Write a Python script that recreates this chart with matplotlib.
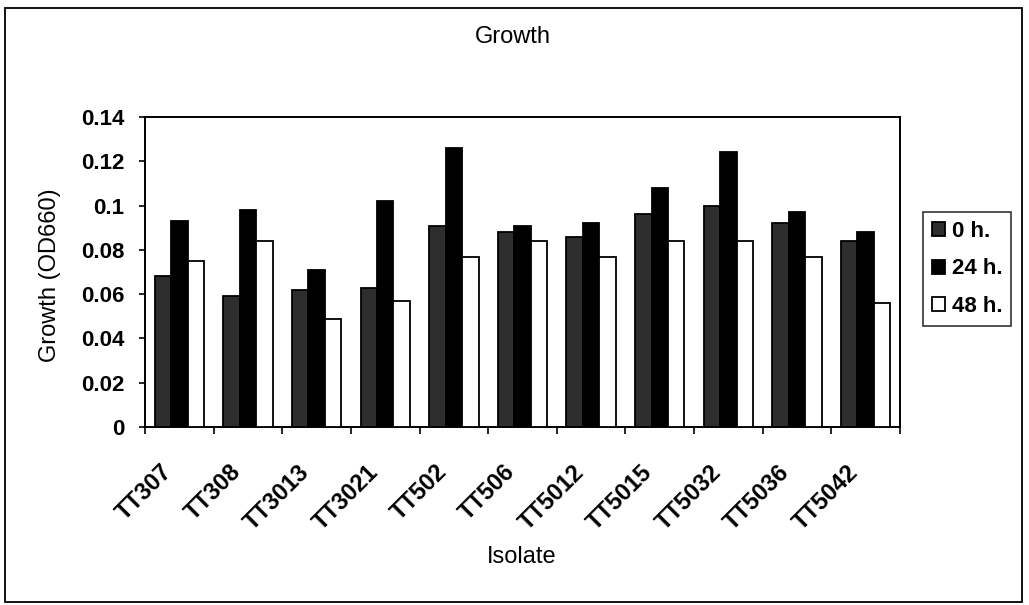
import matplotlib
matplotlib.use("Agg")
import matplotlib.pyplot as plt
import matplotlib.transforms as mtransforms
from matplotlib.patches import Rectangle
import numpy as np

plt.rcParams['font.family'] = ['Liberation Sans', 'DejaVu Sans']

isolates = ["TT307", "TT308", "TT3013", "TT3021", "TT502", "TT506",
            "TT5012", "TT5015", "TT5032", "TT5036", "TT5042"]
growth_0h = [0.068, 0.059, 0.062, 0.063, 0.091, 0.088, 0.086, 0.096, 0.100, 0.092, 0.084]
growth_24h = [0.093, 0.098, 0.071, 0.102, 0.126, 0.091, 0.092, 0.108, 0.124, 0.097, 0.088]
growth_48h = [0.075, 0.084, 0.049, 0.057, 0.077, 0.084, 0.077, 0.084, 0.084, 0.077, 0.056]
series_labels = ["0 h.", "24 h.", "48 h."]
yticks = [0, 0.02, 0.04, 0.06, 0.08, 0.1, 0.12, 0.14]
ytick_labels = ["0", "0.02", "0.04", "0.06", "0.08", "0.1", "0.12", "0.14"]

W, H = 1029, 605
fig = plt.figure(figsize=(W / 100, H / 100), dpi=100)
fig.patch.set_facecolor("white")

# outer chart border
fig.add_artist(Rectangle((5 / W, 1 - 602 / H), (1022 - 5) / W, (602 - 8) / H,
                         transform=fig.transFigure, fill=False,
                         edgecolor="black", linewidth=1.3))

ax = fig.add_axes([145 / W, 1 - 427 / H, (900 - 145) / W, (427 - 117) / H])

x = np.arange(len(isolates))
bw = 0.24
colors = ["#2e2e2e", "#000000", "#ffffff"]
for i, (vals, lab, col) in enumerate(zip([growth_0h, growth_24h, growth_48h],
                                         series_labels, colors)):
    ax.bar(x + (i - 1) * bw, vals, width=bw, color=col, edgecolor="black",
           linewidth=1.3, label=lab, zorder=3)

ax.set_xlim(-0.5, len(isolates) - 0.5)
ax.set_ylim(0, 0.14)

ax.set_yticks(yticks)
ax.set_yticklabels(ytick_labels, fontsize=16, fontweight="bold")
ax.tick_params(axis="y", direction="out", length=4, width=1.2, pad=11)

# category-boundary ticks on x axis
ax.set_xticks(np.arange(-0.5, len(isolates) - 0.4, 1.0), minor=False)
ax.set_xticklabels([])
ax.tick_params(axis="x", which="major", direction="out", length=5, width=1.2)
ax.set_xticks(x, minor=True)
ax.set_xticklabels(isolates, minor=True, fontsize=17, fontweight="bold",
                   rotation=45, ha="right", rotation_mode="anchor")
ax.tick_params(axis="x", which="minor", length=0, pad=24)
offset = mtransforms.ScaledTranslation(-0.19, 0, fig.dpi_scale_trans)
for lbl in ax.get_xticklabels(minor=True):
    lbl.set_transform(lbl.get_transform() + offset)

for sp in ax.spines.values():
    sp.set_linewidth(1.4)
    sp.set_color("black")

fig.text(513 / W, 1 - 37 / H, "Growth", ha="center", va="center", fontsize=17)
fig.text(522 / W, 1 - 557 / H, "Isolate", ha="center", va="center", fontsize=17)
fig.text(50 / W, 1 - 275 / H, "Growth (OD660)", ha="center", va="center",
         rotation=90, fontsize=17)

leg = ax.legend(loc="center left", bbox_to_anchor=(923 / W, 1 - 269 / H),
                bbox_transform=fig.transFigure, frameon=True, fancybox=False,
                edgecolor="black", prop={"weight": "bold", "size": 16},
                handlelength=0.6, handleheight=0.6, handletextpad=0.3,
                labelspacing=0.75, borderpad=0.4, borderaxespad=0)
leg.get_frame().set_linewidth(1.2)

fig.savefig("out.png", dpi=100)
